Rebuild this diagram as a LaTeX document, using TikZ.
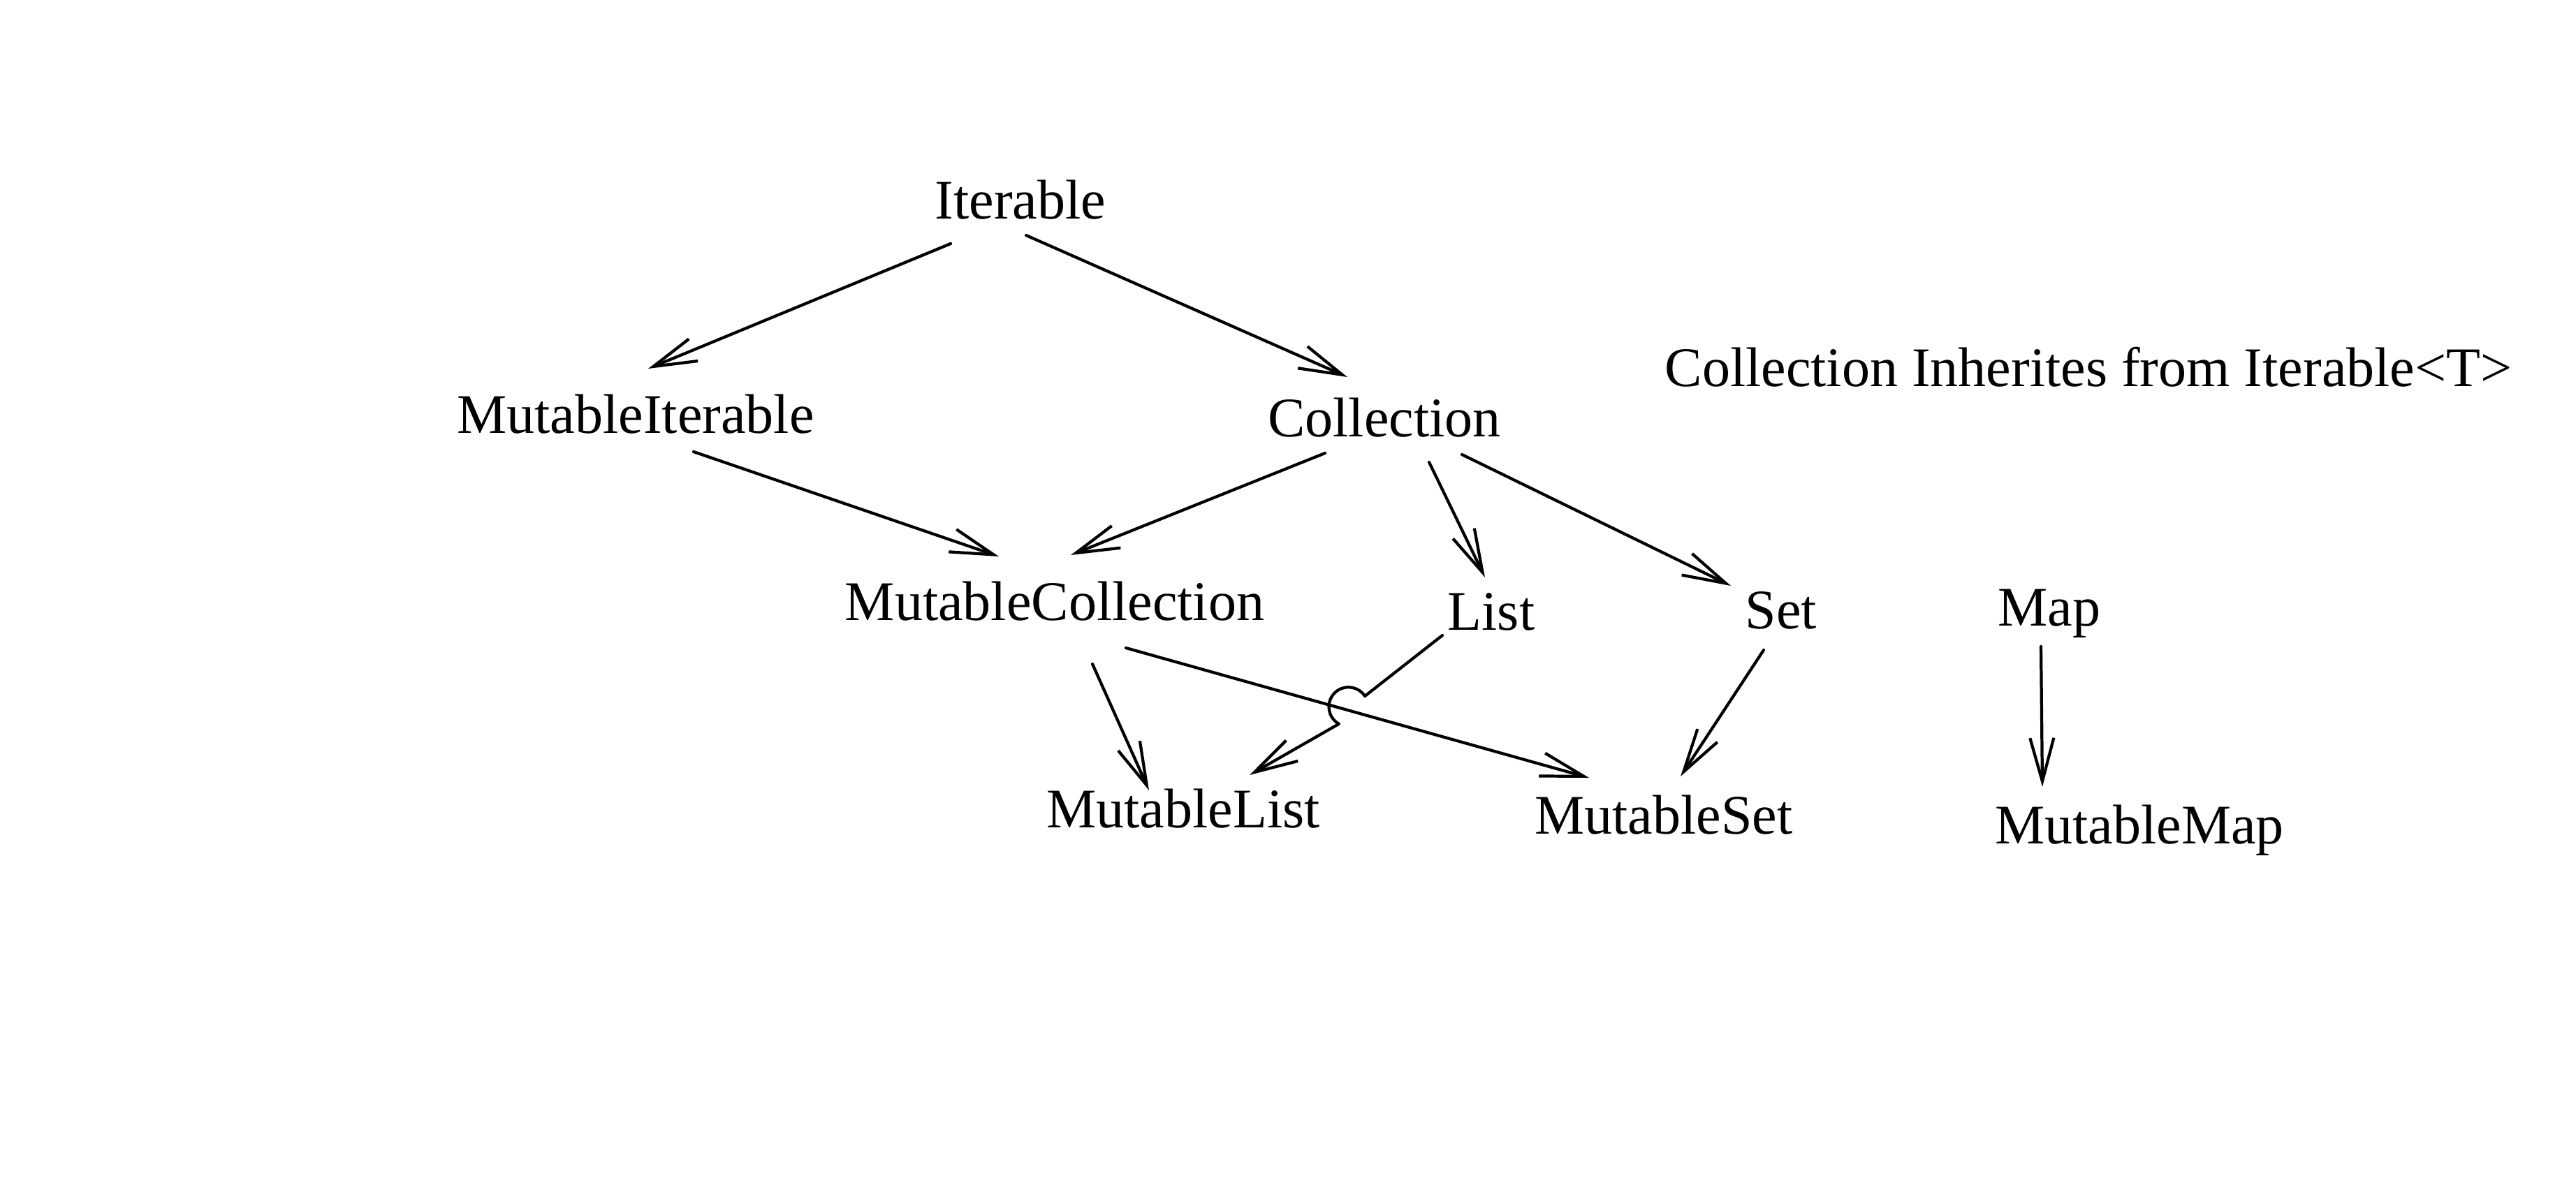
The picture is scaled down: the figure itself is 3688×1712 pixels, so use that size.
\documentclass[tikz,border=0pt]{standalone}
\usepackage{fontspec}
\setmainfont{Liberation Serif}
\usetikzlibrary{arrows.meta}
\begin{document}
\begin{tikzpicture}[x=0.01cm,y=-0.01cm,
  lbl/.style={anchor=base,inner sep=0pt,font=\fontsize{22.76}{27}\selectfont},
  arr/.style={-{Straight Barb[length=0.62cm,width=0.34cm]},line width=1.2pt,line cap=round,line join=round}]
\useasboundingbox (0,0) rectangle (3688,1712);
\node[lbl] (it)   at (1461,313)  {Iterable};
\node[lbl] (mi)   at (910,620)   {MutableIterable};
\node[lbl] (col)  at (1982,625)  {Collection};
\node[lbl] (note) at (2990,553)  {Collection Inherites from Iterable<T>};
\node[lbl] (mc)   at (1510,888)  {MutableCollection};
\node[lbl] (li)   at (2135,902)  {List};
\node[lbl] (se)   at (2550,900)  {Set};
\node[lbl] (ma)   at (2934,896)  {Map};
\node[lbl] (ml)   at (1694,1185) {MutableList};
\node[lbl] (ms)   at (2382,1194) {MutableSet};
\node[lbl] (mm)   at (3063,1208) {MutableMap};

\draw[arr] ([shift={(-100,36)}]it.base) -- ([shift={(18,-92)}]mi.base);
\draw[arr] ([shift={(8,24)}]it.base) -- ([shift={(-53,-85)}]col.base);
\draw[arr] ([shift={(83,27)}]mi.base) -- ([shift={(-80,-91)}]mc.base);
\draw[arr] ([shift={(-85,24)}]col.base) -- ([shift={(23,-93)}]mc.base);
\draw[arr] ([shift={(64,37)}]col.base) -- ([shift={(-9,-75)}]li.base);
\draw[arr] ([shift={(111,26)}]col.base) -- ([shift={(-72,-61)}]se.base);
\draw[arr] ([shift={(54,63)}]mc.base) -- ([shift={(-49,-53)}]ml.base);
\draw[arr] ([shift={(102,40)}]mc.base) -- ([shift={(-107,-80)}]ms.base);
\draw[arr] ([shift={(-70,8)}]li.base) -- ([shift={(-181,95)}]li.base)
  arc[start angle=33,end angle=241,radius=0.28cm] -- ([shift={(95,-75)}]ml.base);
\draw[arr] ([shift={(-25,31)}]se.base) -- ([shift={(24,-82)}]ms.base);
\draw[arr] ([shift={(-12,30)}]ma.base) -- ([shift={(-139,-81)}]mm.base);
\end{tikzpicture}
\end{document}
